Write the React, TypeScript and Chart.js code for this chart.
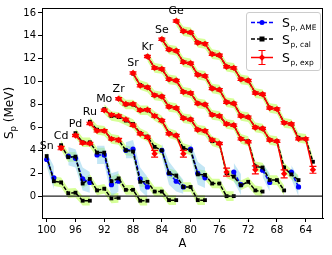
import React, { useEffect, useRef } from "react";
import { Chart, registerables } from "chart.js";
Chart.register(...registerables);

const xTicks = [100, 96, 92, 88, 84, 80, 76, 72, 68, 64];
const yTicks = [0, 2, 4, 6, 8, 10, 12, 14, 16];

const chainNames = ["Sn", "Cd", "Pd", "Ru", "Mo", "Zr", "Sr", "Kr", "Se", "Ge"];
const chainStartA = [100, 98, 96, 94, 92, 90, 88, 86, 84, 82];

// values listed from the first mass number downwards (A, A-1, ...)
const calSn = [3.5, 1.3, 1.2, 0.25, 0.3, -0.4, -0.4];
const expSn = [null, null, null, null, null, null, null];
const expErrSn = [null, null, null, null, null, null, null];
const ameSn = [3.2, 1.6, null, null, null, null, null];
const ameErrSn = [0.6, 1.0, null, null, null, null, null];

const calCd = [4.45, 3.4, 3.45, 1.1, 1.5, 0.5, 0.65, -0.2, -0.15];
const expCd = [4.2, null, null, null, null, null, null, null, null];
const expErrCd = [0.15, null, null, null, null, null, null, null, null];
const ameCd = [null, 3.5, 3.3, 1.5, 1.2, null, null, null, null];
const ameErrCd = [null, 0.8, 0.8, 1.0, 0.9, null, null, null, null];

const calPd = [5.5, 4.7, 4.7, 3.8, 3.8, 1.3, 1.55, 0.55, 0.55, -0.4, -0.4];
const expPd = [5.3, 4.65, 4.6, null, null, null, null, null, null, null, null];
const expErrPd = [0.1, 0.1, 0.1, null, null, null, null, null, null, null, null];
const amePd = [null, null, null, 3.6, 3.6, 1.0, 1.3, null, null, null, null];
const ameErrPd = [null, null, null, 0.8, 0.8, 1.0, 0.9, null, null, null, null];

const calRu = [6.5, 5.8, 5.7, 5.0, 4.9, 4.0, 3.9, 1.25, 1.25, 0.4, 0.4, -0.35, -0.35];
const expRu = [6.35, 5.7, 5.7, 5.0, 4.9, null, null, null, null, null, null, null, null];
const expErrRu = [0.1, 0.1, 0.1, 0.1, 0.15, null, null, null, null, null, null, null, null];
const ameRu = [null, null, null, null, null, 4.0, 4.1, 1.5, 0.8, null, null, null, null];
const ameErrRu = [null, null, null, null, null, 0.7, 0.8, 1.0, 0.9, null, null, null, null];

const calMo = [7.6, 7.0, 6.9, 6.6, 6.3, 5.5, 5.2, 4.3, 4.0, 2.0, 1.8, 0.8, 0.8, -0.35, -0.35];
const expMo = [7.5, 7.1, 7.0, 6.7, 6.2, 5.45, 5.15, 3.7, null, null, null, null, null, null, null];
const expErrMo = [0.1, 0.1, 0.1, 0.1, 0.1, 0.1, 0.1, 0.3, null, null, null, null, null, null, null];
const ameMo = [null, null, null, null, null, null, null, null, 4.0, 2.0, 1.3, 0.8, null, null, null];
const ameErrMo = [null, null, null, null, null, null, null, null, 0.6, 1.0, 0.9, 0.6, null, null, null];

const calZr = [8.5, 8.0, 8.0, 7.5, 7.5, 7.0, 6.6, 5.5, 5.3, 4.2, 4.0, 1.9, 1.85, 1.1, 1.1, 0.0, 0.0];
const expZr = [8.5, 8.05, 8.05, 7.5, 7.55, 7.0, 6.6, 5.45, 5.3, 3.7, null, null, null, null, null, null, null];
const expErrZr = [0.1, 0.1, 0.1, 0.1, 0.1, 0.1, 0.1, 0.1, 0.1, 0.3, null, null, null, null, null, null, null];
const ameZr = [null, null, null, null, null, null, null, null, null, null, 4.1, 2.0, 1.6, null, null, null, null];
const ameErrZr = [null, null, null, null, null, null, null, null, null, null, 0.6, 1.0, 0.9, null, null, null, null];

const calSr = [10.7, 9.7, 9.5, 8.8, 8.7, 7.8, 7.7, 6.8, 6.7, 5.8, 5.7, 4.8, 4.6, 2.0, 1.7, 0.95, 1.25, 0.5, 0.4];
const expSr = [10.75, 9.65, 9.5, 8.8, 8.7, 7.8, 7.7, 6.8, 6.7, 5.8, 5.7, 4.9, 4.6, 2.1, null, null, null, null, null];
const expErrSr = [0.1, 0.1, 0.1, 0.1, 0.1, 0.1, 0.1, 0.1, 0.1, 0.1, 0.1, 0.1, 0.1, 0.35, null, null, null, null, null];
const ameSr = [null, null, null, null, null, null, null, null, null, null, null, null, null, null, 2.1, 1.0, null, null, null];
const ameErrSr = [null, null, null, null, null, null, null, null, null, null, null, null, null, null, 0.8, 0.9, null, null, null];

const calKr = [12.2, 11.2, 11.1, 10.2, 10.1, 9.1, 9.0, 8.1, 8.0, 7.1, 7.0, 6.3, 6.2, 5.0, 4.8, 2.6, 2.5, 1.4, 1.4, 0.5];
const expKr = [12.2, 11.2, 11.1, 10.2, 10.1, 9.1, 9.0, 8.1, 8.0, 7.1, 7.0, 6.3, 6.2, 5.0, 4.75, 2.3, null, null, null, null];
const expErrKr = [0.1, 0.1, 0.1, 0.1, 0.1, 0.1, 0.1, 0.1, 0.1, 0.1, 0.1, 0.1, 0.1, 0.1, 0.1, 0.35, null, null, null, null];
const ameKr = [null, null, null, null, null, null, null, null, null, null, null, null, null, null, null, null, 2.26, 1.2, null, null];
const ameErrKr = [null, null, null, null, null, null, null, null, null, null, null, null, null, null, null, null, 0.6, 0.8, null, null];

const calSe = [13.7, 12.8, 12.7, 11.7, 11.6, 10.6, 10.5, 9.4, 9.3, 8.2, 8.1, 7.0, 6.9, 6.0, 5.9, 4.9, 4.8, 2.5, 1.9, 1.4];
const expSe = [13.7, 12.8, 12.7, 11.7, 11.6, 10.6, 10.5, 9.4, 9.3, 8.2, 8.1, 7.0, 6.9, 6.0, 5.9, 4.9, 4.8, 1.95, null, null];
const expErrSe = [0.1, 0.1, 0.1, 0.1, 0.1, 0.1, 0.1, 0.1, 0.1, 0.1, 0.1, 0.1, 0.1, 0.1, 0.1, 0.1, 0.1, 0.35, null, null];
const ameSe = [null, null, null, null, null, null, null, null, null, null, null, null, null, null, null, null, null, null, 2.1, 0.8];
const ameErrSe = [null, null, null, null, null, null, null, null, null, null, null, null, null, null, null, null, null, null, 0.6, 0.8];

const calGe = [15.3, 14.4, 14.3, 13.4, 13.3, 12.4, 12.3, 11.3, 11.2, 10.2, 10.1, 9.0, 8.9, 7.7, 7.6, 6.4, 6.3, 5.1, 5.0, 3.0];
const expGe = [15.3, 14.4, 14.3, 13.4, 13.3, 12.4, 12.3, 11.3, 11.2, 10.2, 10.1, 9.0, 8.9, 7.7, 7.6, 6.4, 6.3, 5.0, 5.0, 2.3];
const expErrGe = [0.1, 0.1, 0.1, 0.1, 0.1, 0.1, 0.1, 0.1, 0.1, 0.1, 0.1, 0.1, 0.1, 0.1, 0.1, 0.1, 0.1, 0.1, 0.1, 0.3];
const ameGe = [null, null, null, null, null, null, null, null, null, null, null, null, null, null, null, null, null, null, null, null];
const ameErrGe = [null, null, null, null, null, null, null, null, null, null, null, null, null, null, null, null, null, null, null, null];

const calAll = [calSn, calCd, calPd, calRu, calMo, calZr, calSr, calKr, calSe, calGe];
const expAll = [expSn, expCd, expPd, expRu, expMo, expZr, expSr, expKr, expSe, expGe];
const expErrAll = [expErrSn, expErrCd, expErrPd, expErrRu, expErrMo, expErrZr, expErrSr, expErrKr, expErrSe, expErrGe];
const ameAll = [ameSn, ameCd, amePd, ameRu, ameMo, ameZr, ameSr, ameKr, ameSe, ameGe];
const ameErrAll = [ameErrSn, ameErrCd, ameErrPd, ameErrRu, ameErrMo, ameErrZr, ameErrSr, ameErrKr, ameErrSe, ameErrGe];

const CAL_BAND = 0.42;
const GREEN = "rgba(173,255,47,0.5)";
const LBLUE = "rgba(135,206,235,0.5)";
const FONT = "'DejaVu Sans', sans-serif";

function buildDatasets() {
  const ds: any[] = [];
  chainNames.forEach((name, c) => {
    const cal = calAll[c];
    const A = cal.map((_, i) => chainStartA[c] - i);
    const pts = (arr: (number | null)[]) => arr.map((v, i) => ({ x: A[i], y: v }));
    const shifted = (arr: (number | null)[], err: (number | null)[] | number, sign: number) =>
      arr.map((v, i) => {
        const e = typeof err === "number" ? err : err[i];
        return { x: A[i], y: v == null || e == null ? null : v + sign * e };
      });
    ds.push({ data: shifted(cal, CAL_BAND, -1), borderWidth: 0, pointRadius: 0, fill: false, order: 30, tension: 0 });
    ds.push({ data: shifted(cal, CAL_BAND, 1), borderWidth: 0, pointRadius: 0, fill: "-1", backgroundColor: GREEN, order: 30, tension: 0 });
    const ame = ameAll[c];
    const ameErr = ameErrAll[c];
    ds.push({ data: shifted(ame, ameErr, -1), borderWidth: 0, pointRadius: 0, fill: false, order: 29 });
    ds.push({ data: shifted(ame, ameErr, 1), borderWidth: 0, pointRadius: 0, fill: "-1", backgroundColor: LBLUE, order: 29 });
    ds.push({
      data: pts(ame), borderColor: "#0000ff", backgroundColor: "#0000ff", borderWidth: 1.5,
      borderDash: [4, 2], pointRadius: 2.6, pointStyle: "circle", pointBorderWidth: 0, order: 4, spanGaps: false,
    });
    ds.push({
      data: pts(cal), borderColor: "#000000", backgroundColor: "#000000", borderWidth: 1.5,
      borderDash: [4, 1.5], pointRadius: 2.7, pointStyle: "rect", pointBorderWidth: 0, order: 3,
    });
    ds.push({
      data: pts(expAll[c]), borderColor: "#ff0000", backgroundColor: "#ff0000", borderWidth: 1.5,
      pointRadius: 3.2, pointStyle: "rectRot", pointBorderWidth: 0, order: 2, errors: expErrAll[c],
    });
  });
  return ds;
}

const decorPlugin = {
  id: "decor",
  afterDatasetsDraw(chart: any) {
    const ctx = chart.ctx;
    const xs = chart.scales.x;
    const ys = chart.scales.y;
    const area = chart.chartArea;
    ctx.save();
    chart.data.datasets.forEach((d: any) => {
      if (!d.errors) return;
      ctx.strokeStyle = "#ff0000";
      ctx.lineWidth = 1.2;
      d.data.forEach((p: any, i: number) => {
        const e = d.errors[i];
        if (p.y == null || e == null) return;
        const px = xs.getPixelForValue(p.x);
        const y1 = ys.getPixelForValue(p.y - e);
        const y2 = ys.getPixelForValue(p.y + e);
        ctx.beginPath();
        ctx.moveTo(px, y1); ctx.lineTo(px, y2);
        ctx.moveTo(px - 3.5, y1); ctx.lineTo(px + 3.5, y1);
        ctx.moveTo(px - 3.5, y2); ctx.lineTo(px + 3.5, y2);
        ctx.stroke();
      });
    });
    const y0 = ys.getPixelForValue(0);
    ctx.strokeStyle = "#222";
    ctx.lineWidth = 1.2;
    ctx.beginPath();
    ctx.moveTo(area.left, y0); ctx.lineTo(area.right, y0);
    ctx.stroke();
    ctx.fillStyle = "#000";
    ctx.font = `11px ${FONT}`;
    ctx.textAlign = "center";
    ctx.textBaseline = "bottom";
    chainNames.forEach((n, c) => {
      const px = xs.getPixelForValue(chainStartA[c]);
      const top = Math.max(calAll[c][0] as number, (expAll[c][0] ?? -99) as number);
      const py = ys.getPixelForValue(top);
      ctx.fillText(n, px, py - 4);
    });
    ctx.restore();
  },
  afterDraw(chart: any) {
    const ctx = chart.ctx;
    const area = chart.chartArea;
    ctx.save();
    ctx.strokeStyle = "#000";
    ctx.lineWidth = 1;
    ctx.strokeRect(area.left + 0.5, area.top + 0.5, area.right - area.left - 1, area.bottom - area.top);
    ctx.fillStyle = "#000";
    ctx.font = `11.5px ${FONT}`;
    ctx.textAlign = "center";
    ctx.textBaseline = "alphabetic";
    ctx.fillText("A", (area.left + area.right) / 2, 247);
    ctx.translate(13, (area.top + area.bottom) / 2);
    ctx.rotate(-Math.PI / 2);
    ctx.textAlign = "left";
    ctx.font = `12px ${FONT}`;
    const w1 = ctx.measureText("S").width;
    ctx.font = `8.5px ${FONT}`;
    const w2 = ctx.measureText("p").width;
    ctx.font = `12px ${FONT}`;
    const w3 = ctx.measureText(" (MeV)").width;
    const x0 = -(w1 + w2 + w3) / 2;
    ctx.fillText("S", x0, 0);
    ctx.font = `8.5px ${FONT}`;
    ctx.fillText("p", x0 + w1, 3);
    ctx.font = `12px ${FONT}`;
    ctx.fillText(" (MeV)", x0 + w1 + w2, 0);
    ctx.restore();

    ctx.save();
    const lx = 246.5, ly = 12.5, lw = 74, lh = 58;
    ctx.fillStyle = "rgba(255,255,255,0.85)";
    ctx.strokeStyle = "#cccccc";
    ctx.lineWidth = 1;
    ctx.beginPath();
    ctx.roundRect(lx, ly, lw, lh, 2.5);
    ctx.fill();
    ctx.stroke();
    const rows = [
      { y: 22.5, color: "#0000ff", dash: [4, 2], marker: "circle", sub: "p, AME" },
      { y: 39, color: "#000000", dash: [4, 2], marker: "square", sub: "p, cal" },
      { y: 57.5, color: "#ff0000", dash: [], marker: "diamond", sub: "p, exp" },
    ];
    rows.forEach((r) => {
      ctx.strokeStyle = r.color;
      ctx.fillStyle = r.color;
      ctx.lineWidth = 1.5;
      ctx.setLineDash(r.dash);
      ctx.beginPath();
      ctx.moveTo(251, r.y); ctx.lineTo(273, r.y);
      ctx.stroke();
      ctx.setLineDash([]);
      const cx = 262;
      ctx.beginPath();
      if (r.marker === "circle") ctx.arc(cx, r.y, 2.5, 0, Math.PI * 2);
      else if (r.marker === "square") ctx.rect(cx - 2.5, r.y - 2.5, 5, 5);
      else {
        ctx.moveTo(cx, r.y - 3.2); ctx.lineTo(cx + 3.2, r.y); ctx.lineTo(cx, r.y + 3.2); ctx.lineTo(cx - 3.2, r.y); ctx.closePath();
      }
      ctx.fill();
      if (r.marker === "diamond") {
        ctx.lineWidth = 1.2;
        ctx.beginPath();
        ctx.moveTo(cx, r.y - 7); ctx.lineTo(cx, r.y + 7);
        ctx.moveTo(cx - 3.5, r.y - 7); ctx.lineTo(cx + 3.5, r.y - 7);
        ctx.moveTo(cx - 3.5, r.y + 7); ctx.lineTo(cx + 3.5, r.y + 7);
        ctx.stroke();
      }
      ctx.fillStyle = "#000";
      ctx.font = `12.5px ${FONT}`;
      ctx.textAlign = "left";
      ctx.textBaseline = "alphabetic";
      ctx.fillText("S", 282, r.y + 4.5);
      ctx.font = `7.5px ${FONT}`;
      ctx.fillText(r.sub, 290.5, r.y + 7.5);
    });
    ctx.restore();
  },
};

export default function App() {
  const ref = useRef<HTMLCanvasElement | null>(null);
  useEffect(() => {
    if (!ref.current) return;
    const chart = new Chart(ref.current, {
      type: "line",
      data: { datasets: buildDatasets() },
      options: {
        animation: false,
        responsive: true,
        maintainAspectRatio: false,
        layout: { padding: { left: 0, top: 7, right: 9, bottom: 0 } },
        plugins: { legend: { display: false }, tooltip: { enabled: false } },
        elements: { line: { tension: 0 } },
        scales: {
          x: {
            type: "linear",
            reverse: true,
            min: 61.6,
            max: 100.65,
            afterBuildTicks: (s: any) => { s.ticks = xTicks.map((v) => ({ value: v })); },
            afterFit: (s: any) => { s.height = 37; },
            grid: { drawOnChartArea: false, drawTicks: true, tickLength: 4, color: "#000" },
            border: { display: true, color: "#000", width: 1 },
            ticks: { color: "#000", font: { family: FONT, size: 10 }, padding: 2, maxRotation: 0, autoSkip: false },
          },
          y: {
            type: "linear",
            min: -1.91,
            max: 16.43,
            afterBuildTicks: (s: any) => { s.ticks = yTicks.map((v) => ({ value: v })); },
            afterFit: (s: any) => { s.width = 42; },
            grid: { drawOnChartArea: false, drawTicks: true, tickLength: 4, color: "#000" },
            border: { display: true, color: "#000", width: 1 },
            ticks: { color: "#000", font: { family: FONT, size: 10 }, padding: 2, autoSkip: false },
          },
        },
      },
      plugins: [decorPlugin],
    });
    return () => chart.destroy();
  }, []);
  return (
    <div style={{ position: "absolute", left: 0, top: 0, width: 332, height: 255, background: "#fff" }}>
      <canvas ref={ref} />
    </div>
  );
}
